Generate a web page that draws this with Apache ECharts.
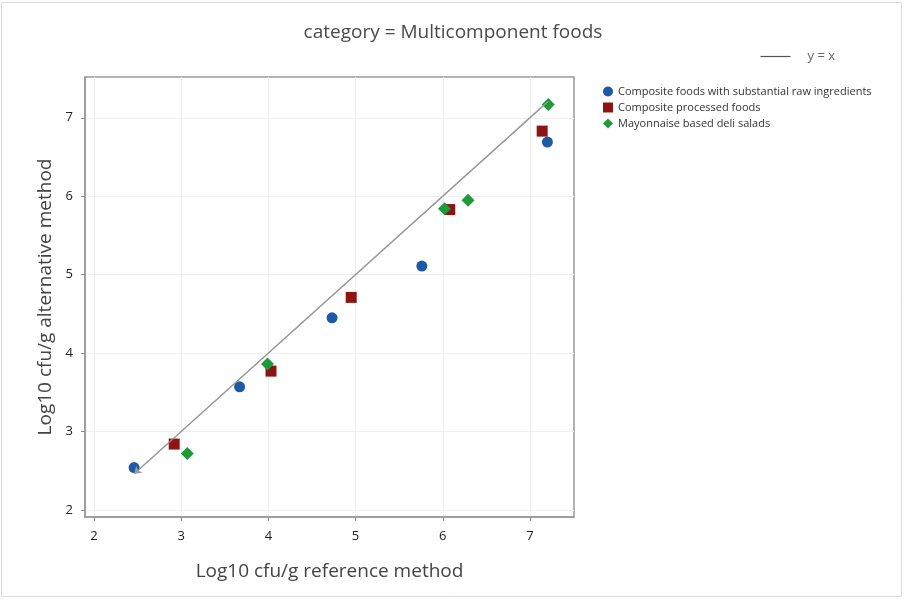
<!DOCTYPE html>
<html>
<head>
<meta charset="utf-8">
<script src="https://cdn.jsdelivr.net/npm/echarts@6/dist/echarts.min.js"></script>
<style>
    html, body { margin: 0; padding: 0; background: #fff; }
    #chart { width: 906px; height: 601px; }
</style>
</head>
<body>
<div id="chart"></div>
<script>
const titleText = "category = Multicomponent foods";
const xName = "Log10 cfu/g reference method";
const yName = "Log10 cfu/g alternative method";
const tickValues = [2, 3, 4, 5, 6, 7];

const rawIngredients = [[2.46, 2.54], [3.67, 3.57], [4.73, 4.45], [5.76, 5.11], [7.2, 6.69]];
const processedFoods = [[2.92, 2.84], [4.03, 3.77], [4.95, 4.71], [6.08, 5.83], [7.14, 6.83]];
const mayoSalads = [[3.07, 2.72], [3.99, 3.86], [6.02, 5.84], [6.29, 5.95], [7.21, 7.17]];
const identity = [[7.21, 7.21], [2.46, 2.46]];

const seriesNames = [
    "Composite foods with substantial raw ingredients",
    "Composite processed foods",
    "Mayonnaise based deli salads",
];
const diamond = "path://M5,0 L10,5 L5,10 L0,5 Z";

const chart = echarts.init(document.getElementById("chart"));
chart.setOption({
    animation: false,
    textStyle: { fontFamily: "Open Sans" },
    title: {
        text: titleText,
        left: "center",
        top: 18,
        textStyle: { fontSize: 19, fontWeight: "normal", color: "#4a4a4a" },
    },
    graphic: [
        {
            type: "rect",
            shape: { x: 1.5, y: 2.5, width: 900, height: 594 },
            style: { fill: "none", stroke: "#dcdcdc", lineWidth: 1 },
            silent: true,
        },
    ],
    legend: [
        {
            data: [{ name: "y = x", icon: "path://M0,0 L30,0 L30,1.2 L0,1.2 Z" }],
            right: 66,
            top: 45,
            itemWidth: 30,
            itemHeight: 1.2,
            itemGap: 18,
            itemStyle: { color: "#555" },
            textStyle: { fontSize: 13, color: "#666", padding: [0, 0, 0, 12] },
        },
        {
            data: seriesNames,
            orient: "vertical",
            left: 598,
            top: 81,
            itemWidth: 10,
            itemHeight: 10,
            itemGap: 5,
            textStyle: { fontSize: 11, color: "#333" },
        },
    ],
    grid: {
        left: 85,
        top: 77,
        right: 332,
        bottom: 84,
        show: true,
        borderColor: "#999",
        borderWidth: 1.5,
    },
    xAxis: {
        type: "value",
        min: 1.897,
        max: 7.505,
        name: xName,
        nameLocation: "middle",
        nameGap: 45,
        nameTextStyle: { fontSize: 19, color: "#444" },
        axisLine: { show: true, lineStyle: { color: "#999", width: 1.5 } },
        axisTick: { show: true, customValues: tickValues, length: 4, lineStyle: { color: "#888" } },
        axisLabel: { customValues: tickValues, fontSize: 13, color: "#222", margin: 13 },
        splitLine: { show: true, lineStyle: { color: "#efefef" } },
    },
    yAxis: {
        type: "value",
        min: 1.91,
        max: 7.52,
        name: yName,
        nameLocation: "middle",
        nameGap: 30,
        nameTextStyle: { fontSize: 19, color: "#444" },
        axisLine: { show: true, lineStyle: { color: "#999", width: 1.5 } },
        axisTick: { show: true, customValues: tickValues, length: 4, lineStyle: { color: "#888" } },
        axisLabel: { customValues: tickValues, fontSize: 13, color: "#222", margin: 12 },
        splitLine: { show: true, lineStyle: { color: "#efefef" } },
    },
    series: [
        {
            name: "y = x",
            type: "line",
            data: identity,
            symbol: "none",
            lineStyle: { color: "#9a9a9a", width: 1.2 },
            itemStyle: { color: "#555" },
            markLine: {
                silent: true,
                symbol: ["none", "arrow"],
                symbolSize: 7,
                label: { show: false },
                lineStyle: { color: "#9a9a9a", width: 1.2, type: "solid" },
                data: [[{ coord: identity[0] }, { coord: identity[1] }]],
            },
            z: 1,
        },
        {
            name: seriesNames[0],
            type: "scatter",
            data: rawIngredients,
            symbol: "circle",
            symbolSize: 11,
            itemStyle: { color: "#1c5aa8", opacity: 1 },
            z: 3,
        },
        {
            name: seriesNames[1],
            type: "scatter",
            data: processedFoods,
            symbol: "rect",
            symbolSize: 11,
            itemStyle: { color: "#8e1414", opacity: 1 },
            z: 3,
        },
        {
            name: seriesNames[2],
            type: "scatter",
            data: mayoSalads,
            symbol: diamond,
            symbolSize: 13,
            itemStyle: { color: "#1f9a3a", opacity: 1 },
            z: 3,
        },
    ],
});
</script>
</body>
</html>
